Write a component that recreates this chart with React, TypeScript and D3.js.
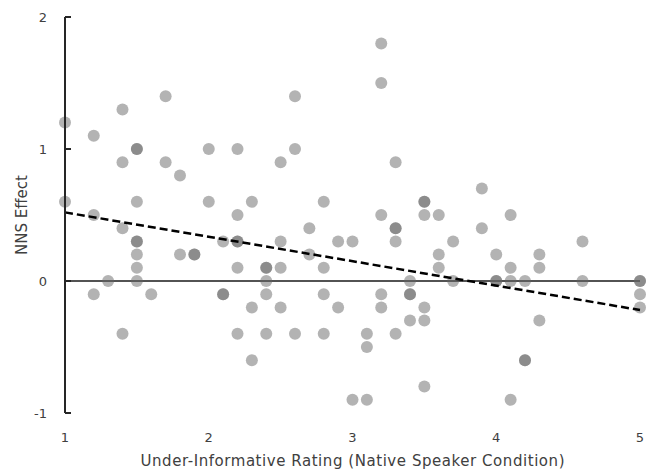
import * as d3 from "d3";

// Under-informative rating (native speaker condition), one entry per participant
const ratingX = [
  1.0, 1.0,
  1.2, 1.2, 1.2,
  1.3,
  1.4, 1.4, 1.4, 1.4,
  1.5, 1.5, 1.5, 1.5, 1.5, 1.5, 1.5, 1.5,
  1.6,
  1.7, 1.7,
  1.8, 1.8,
  1.9, 1.9,
  2.0, 2.0,
  2.1, 2.1, 2.1,
  2.2, 2.2, 2.2, 2.2, 2.2, 2.2,
  2.3, 2.3, 2.3,
  2.4, 2.4, 2.4, 2.4, 2.4,
  2.5, 2.5, 2.5, 2.5,
  2.6, 2.6, 2.6,
  2.7, 2.7,
  2.8, 2.8, 2.8, 2.8,
  2.9, 2.9,
  3.0, 3.0,
  3.1, 3.1, 3.1,
  3.2, 3.2, 3.2, 3.2, 3.2,
  3.3, 3.3, 3.3, 3.3, 3.3,
  3.4, 3.4, 3.4, 3.4,
  3.5, 3.5, 3.5, 3.5, 3.5, 3.5,
  3.6, 3.6, 3.6,
  3.7, 3.7,
  3.9, 3.9,
  4.0, 4.0, 4.0,
  4.1, 4.1, 4.1, 4.1,
  4.2, 4.2, 4.2,
  4.3, 4.3, 4.3,
  4.6, 4.6,
  5.0, 5.0, 5.0, 5.0,
];

// NNS effect for the same participants
const effectY = [
  1.2, 0.6,
  1.1, 0.5, -0.1,
  0,
  1.3, 0.9, 0.4, -0.4,
  1.0, 1.0, 0.6, 0.3, 0.3, 0.2, 0.1, 0,
  -0.1,
  1.4, 0.9,
  0.8, 0.2,
  0.2, 0.2,
  1.0, 0.6,
  0.3, -0.1, -0.1,
  1.0, 0.5, 0.3, 0.3, 0.1, -0.4,
  0.6, -0.2, -0.6,
  0.1, 0.1, 0, -0.1, -0.4,
  0.9, 0.3, 0.1, -0.2,
  1.4, 1.0, -0.4,
  0.4, 0.2,
  0.6, 0.1, -0.1, -0.4,
  0.3, -0.2,
  0.3, -0.9,
  -0.4, -0.5, -0.9,
  1.8, 1.5, 0.5, -0.1, -0.2,
  0.9, 0.4, 0.4, 0.3, -0.4,
  0, -0.1, -0.1, -0.3,
  0.6, 0.6, 0.5, -0.2, -0.3, -0.8,
  0.5, 0.2, 0.1,
  0.3, 0,
  0.7, 0.4,
  0.2, 0, 0,
  0.5, 0.1, 0, -0.9,
  0, -0.6, -0.6,
  0.2, 0.1, -0.3,
  0.3, 0,
  0, 0, -0.1, -0.2,
];

// linear trend line end points
const trendX = [1, 5];
const trendY = [0.52, -0.22];

const xTicks = [1, 2, 3, 4, 5];
const yTicks = [-1, 0, 1, 2];

const W = 654;
const H = 470;
const margin = { top: 17, right: 14, bottom: 57, left: 65 };

export default function App() {
  const x = d3.scaleLinear().domain([1, 5]).range([margin.left, W - margin.right]);
  const y = d3.scaleLinear().domain([-1, 2]).range([H - margin.bottom, margin.top]);

  const trendLine = d3
    .line<number>()
    .x((d) => x(d))
    .y((_, i) => y(trendY[i]));

  const font = "'DejaVu Sans', sans-serif";
  const textColor = "#404040";

  return (
    <svg
      width={W}
      height={H}
      style={{ position: "absolute", left: 0, top: 0, background: "#fff" }}
      fontFamily={font}
    >
      {/* zero line */}
      <line x1={x(1)} x2={x(5)} y1={y(0)} y2={y(0)} stroke="#1a1a1a" strokeWidth={1.5} />

      {/* points */}
      {ratingX.map((rx, i) => (
        <circle
          key={i}
          cx={x(rx)}
          cy={y(effectY[i])}
          r={6}
          fill="#646464"
          fillOpacity={0.49}
        />
      ))}

      {/* trend */}
      <path
        d={trendLine(trendX) ?? ""}
        fill="none"
        stroke="#000"
        strokeWidth={2.5}
        strokeDasharray="8,4"
      />

      {/* y axis */}
      <line x1={x(1)} x2={x(1)} y1={y(2)} y2={y(-1)} stroke="#262626" strokeWidth={2} />
      {yTicks.map((t) => (
        <g key={t}>
          <line x1={x(1)} x2={x(1) + 6} y1={y(t)} y2={y(t)} stroke="#262626" strokeWidth={2} />
          <text
            x={x(1) - 18}
            y={y(t)}
            dy="0.35em"
            textAnchor="end"
            fontSize={13}
            fill={textColor}
          >
            {t}
          </text>
        </g>
      ))}

      {/* x tick labels */}
      {xTicks.map((t) => (
        <text
          key={t}
          x={x(t)}
          y={H - margin.bottom + 24}
          dy="0.35em"
          textAnchor="middle"
          fontSize={13}
          fill={textColor}
        >
          {t}
        </text>
      ))}

      {/* axis titles */}
      <text
        x={(x(1) + x(5)) / 2}
        y={461}
        dy="0.35em"
        textAnchor="middle"
        fontSize={15}
        textLength={424}
        lengthAdjust="spacing"
        fill={textColor}
      >
        Under-Informative Rating (Native Speaker Condition)
      </text>
      <text
        transform={`translate(22, ${(y(2) + y(-1)) / 2}) rotate(-90)`}
        dy="0.35em"
        textAnchor="middle"
        fontSize={15}
        fill={textColor}
      >
        NNS Effect
      </text>
    </svg>
  );
}
